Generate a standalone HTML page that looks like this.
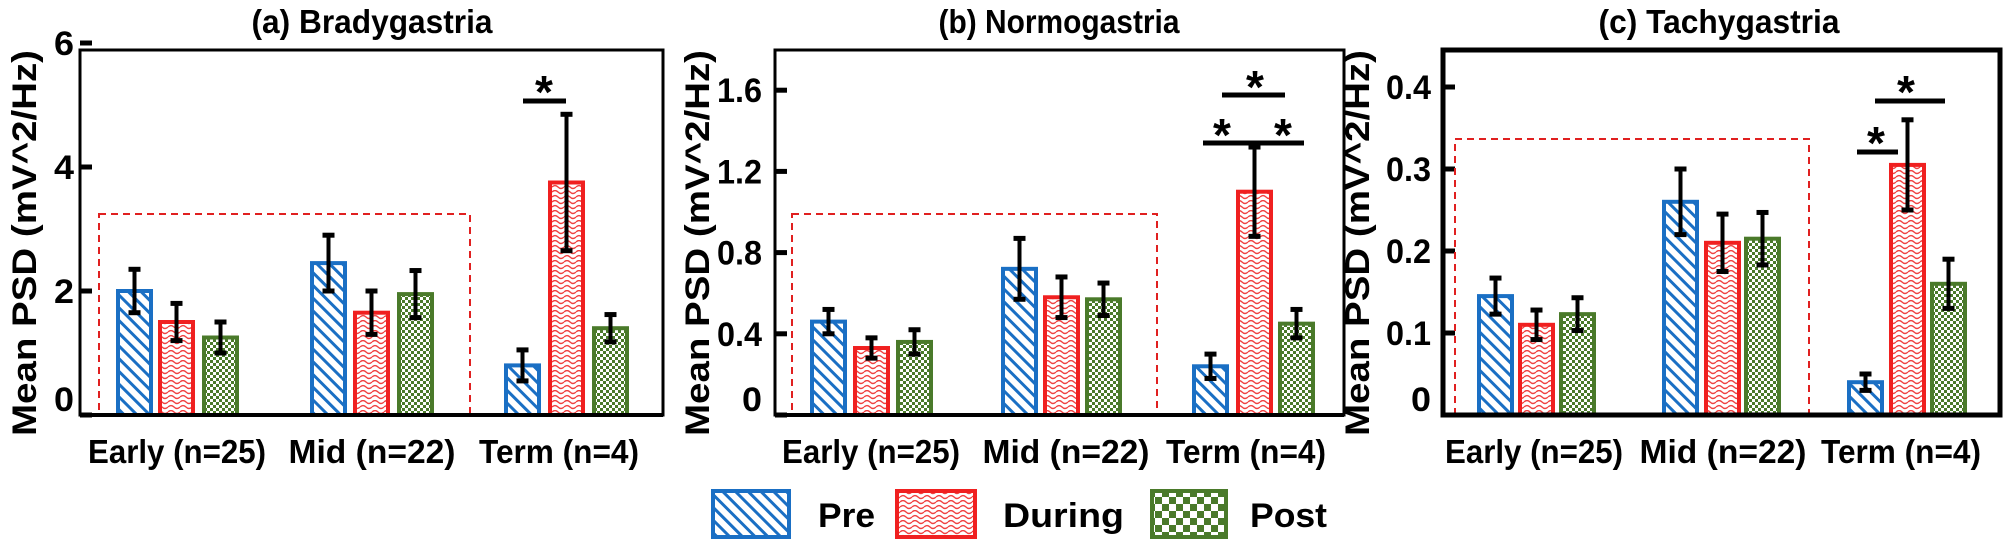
<!DOCTYPE html>
<html><head><meta charset="utf-8"><style>
html,body{margin:0;padding:0;background:#fff;}
svg{display:block;}
text{font-family:"Liberation Sans",sans-serif;font-weight:bold;fill:#000;}
</style></head><body>
<svg id="s" width="2007" height="545" viewBox="0 0 2007 545" xmlns="http://www.w3.org/2000/svg">
<defs>
<pattern id="pb" width="9" height="9" patternUnits="userSpaceOnUse" patternTransform="rotate(-45)">
<rect width="9" height="9" fill="#fff"/><rect x="0" y="0" width="3" height="9" fill="#1a6fc4"/></pattern>
<pattern id="pr" width="12" height="10" patternUnits="userSpaceOnUse">
<rect width="12" height="10" fill="#fff"/><path d="M0 2 Q3 -1 6 2 T12 2 M0 7 Q3 4 6 7 T12 7" stroke="#f04040" stroke-width="1.3" fill="none"/></pattern>
<pattern id="pg" width="6" height="6" patternUnits="userSpaceOnUse">
<rect width="6" height="6" fill="#fff"/><rect width="3" height="3" fill="#4a7a2a"/><rect x="3" y="3" width="3" height="3" fill="#4a7a2a"/></pattern>
<pattern id="pg2" width="14" height="14" patternUnits="userSpaceOnUse">
<rect width="14" height="14" fill="#fff"/><rect width="7" height="7" fill="#4a7a2a"/><rect x="7" y="7" width="7" height="7" fill="#4a7a2a"/></pattern>
</defs>
<g id="g"></g>
</svg>
<script>
const g=document.getElementById('g');let h='';
function T(x,y,fs,s,len,anc,extra){return `<text x="${x}" y="${y}" font-size="${fs}" text-anchor="${anc||'middle'}" ${len?`textLength="${len}" lengthAdjust="spacingAndGlyphs"`:''} ${extra||''}>${s}</text>`;}
const cols=[['url(#pb)','#1a6fc4'],['url(#pr)','#f02020'],['url(#pg)','#4a7a2a']];
const P=[
{L:80,R:663,T:50,B:415,ppu:62,fw:3,ticks:[0,2,4,6],lab:['0','2','4','6'],tx:74,
 bars:[[116,158,202],[310,353,397],[504,548,592]],
 v:[[2.0,.35],[1.5,.3],[1.25,.25],[2.45,.45],[1.65,.35],[1.95,.38],[0.8,.25],[3.75,1.1],[1.4,.22]],
 box:[99,214,470,415],xl:[177,372,559],yl:24,title:[372,'(a) Bradygastria'],
 sig:[[523,566,101,544,92]]},
{L:775,R:1344,T:50,B:415,ppu:203,fw:3,ticks:[0,.4,.8,1.2,1.6],lab:['0','0.4','0.8','1.2','1.6'],tx:762,
 bars:[[810,853,896],[1001,1043,1085],[1192,1236,1278]],
 v:[[.46,.06],[.33,.05],[.36,.06],[.72,.15],[.58,.1],[.57,.08],[.24,.06],[1.1,.22],[.45,.07]],
 box:[792,214,1157,415],xl:[871,1066,1246],yl:697,title:[1059,'(b) Normogastria'],
 sig:[[1222,1285,95,1255,87],[1203,1246,143,1222,135],[1244,1304,143,1283,135]]},
{L:1443,R:2000,T:50,B:415,ppu:820,fw:5,ticks:[0,.1,.2,.3,.4],lab:['0','0.1','0.2','0.3','0.4'],tx:1431,
 bars:[[1477,1518,1559],[1662,1704,1744],[1847,1889,1930]],
 v:[[.145,.022],[.11,.018],[.123,.02],[.26,.04],[.21,.035],[.215,.032],[.04,.01],[.305,.055],[.16,.03]],
 box:[1455,139,1809,415],xl:[1534,1723,1901],yl:1357,title:[1719,'(c) Tachygastria'],
 sig:[[1857,1898,152,1876,143],[1875,1945,101,1906,92]]}];
P.forEach(p=>{
 const y=v=>p.B-v*p.ppu;
 p.ticks.forEach((t,i)=>{h+=`<line x1="${p.L}" x2="${p.L+12}" y1="${y(t)}" y2="${y(t)}" stroke="#000" stroke-width="5"/>`;
  const L=p.lab[i].length>1?45:20;
  h+=T(p.tx,t>0?y(t)+12:y(t)-4,34,p.lab[i],L,'end');});
 let k=0;
 p.bars.forEach(gr=>gr.forEach((x,j)=>{const [m,e]=p.v[k++];const w=35;
  h+=`<rect x="${x+2}" y="${y(m)}" width="${w-2}" height="${p.B-y(m)}" fill="${cols[j][0]}" stroke="${cols[j][1]}" stroke-width="4"/>`;
  const cx=x+w/2+1;
  h+=`<line x1="${cx}" x2="${cx}" y1="${y(m+e)}" y2="${y(m-e)}" stroke="#000" stroke-width="4"/>`;
  h+=`<line x1="${cx-6}" x2="${cx+6}" y1="${y(m+e)}" y2="${y(m+e)}" stroke="#000" stroke-width="5"/>`;
  h+=`<line x1="${cx-6}" x2="${cx+6}" y1="${y(m-e)}" y2="${y(m-e)}" stroke="#000" stroke-width="5"/>`;}));
 const b=p.box;
 h+=`<rect x="${b[0]}" y="${b[1]}" width="${b[2]-b[0]}" height="${b[3]-b[1]}" fill="none" stroke="#e02020" stroke-width="2" stroke-dasharray="7,5"/>`;
 h+=`<rect x="${p.L}" y="${p.T}" width="${p.R-p.L}" height="${p.B-p.T}" fill="none" stroke="#000" stroke-width="${p.fw}"/>`;
 h+=`<line x1="${p.L}" x2="${p.R}" y1="${p.B}" y2="${p.B}" stroke="#000" stroke-width="4"/>`;
 const n=['Early (n=25)','Mid (n=22)','Term (n=4)'],nl=[178,167,160];
 p.xl.forEach((x,i)=>h+=T(x,463,33,n[i],nl[i]));
 h+=T(p.title[0],33,33,p.title[1],241);
 h+=T(p.yl,255,34,'Mean PSD (mV^2/Hz)',386,'middle',`transform="rotate(-90 ${p.yl} 243)"`);
 p.sig.forEach(s=>{h+=`<line x1="${s[0]}" x2="${s[1]}" y1="${s[2]}" y2="${s[2]}" stroke="#000" stroke-width="5"/>`;
  h+=T(s[3],s[4]+16,46,'*');});
});
h+=`<rect x="713" y="491" width="76" height="46" fill="url(#pb)" stroke="#1a6fc4" stroke-width="4"/>`;
h+=T(818,527,34,'Pre',57,'start');
h+=`<rect x="897" y="491" width="78" height="46" fill="url(#pr)" stroke="#f02020" stroke-width="4"/>`;
h+=T(1003,527,34,'During',121,'start');
h+=`<rect x="1152" y="491" width="74" height="46" fill="url(#pg2)" stroke="#4a7a2a" stroke-width="4"/>`;
h+=T(1250,527,34,'Post',77,'start');
g.innerHTML=h;
</script>
</body></html>
